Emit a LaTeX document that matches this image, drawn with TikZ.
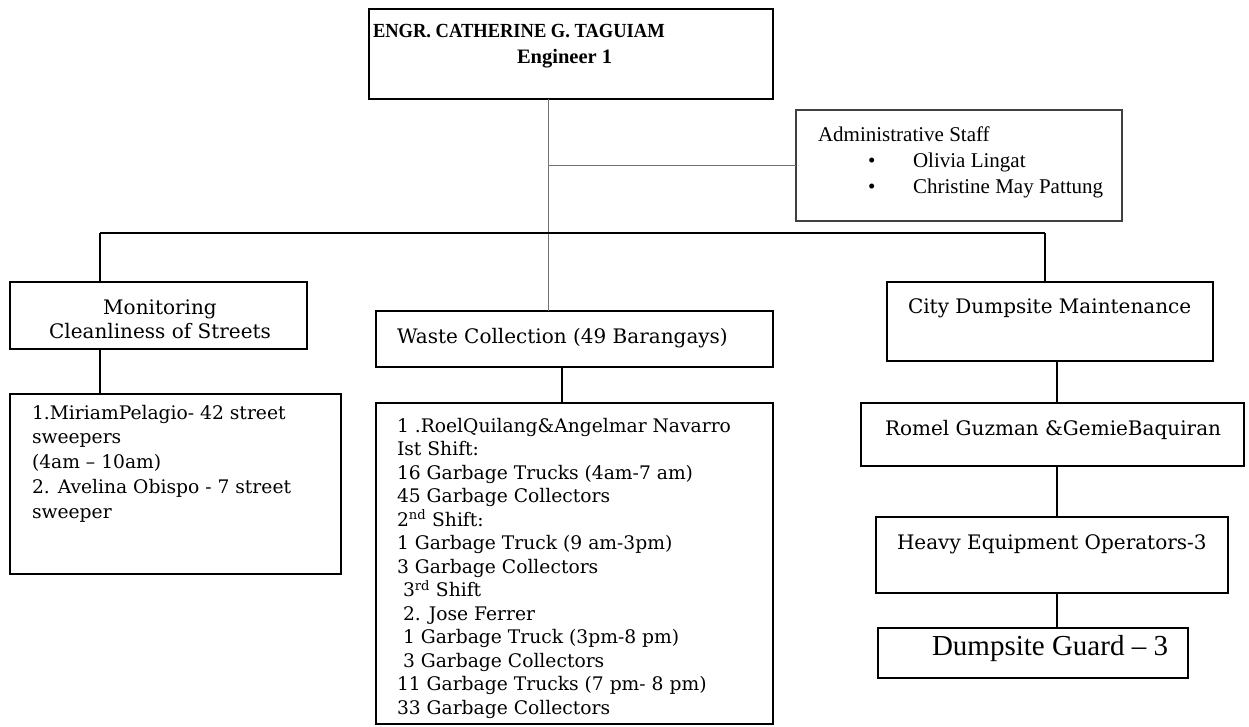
\documentclass[tikz,border=0pt]{standalone}
\usepackage{fontspec}
\setmainfont{DejaVu Serif}
\newfontfamily\timesf[Ligatures=TeX]{Liberation Serif}
\tikzset{
  x=1pt, y=-1pt,
  box/.style={draw=black, line width=1.6pt, anchor=north west, inner sep=0pt, outer sep=0pt},
  adminbox/.style={box, draw=black!75, line width=2.2pt},
  txt/.style={anchor=base west, inner sep=0pt, outer sep=0pt},
  ctxt/.style={anchor=base, inner sep=0pt, outer sep=0pt},
  grayln/.style={draw=black!55, line width=1pt},
  barln/.style={draw=black, line width=2.4pt},
  dropln/.style={draw=black, line width=1.7pt},
}
\newcommand{\bodyf}{\fontsize{20pt}{24pt}\selectfont}
\newcommand{\detf}{\fontsize{18.7pt}{23.5pt}\selectfont}
\begin{document}
\begin{tikzpicture}
\useasboundingbox (0,0) rectangle (1249,726);
% boxes
\node[box, line width=1.8pt, minimum width=404pt, minimum height=90pt] (T) at (369,9) {};
\node[adminbox, minimum width=326pt, minimum height=111pt] (A) at (796,110) {};
\node[box, minimum width=297pt, minimum height=67pt] (M) at (10,282) {};
\node[box, minimum width=397pt, minimum height=56pt] (W) at (376,311) {};
\node[box, minimum width=326pt, minimum height=79pt] (C) at (887,282) {};
\node[box, minimum width=331pt, minimum height=180pt] (MD) at (10,394) {};
\node[box, minimum width=397pt, minimum height=321pt] (WD) at (376,403) {};
\node[box, minimum width=383pt, minimum height=63pt] (R) at (861,403) {};
\node[box, minimum width=352pt, minimum height=76pt] (H) at (876,517) {};
\node[box, minimum width=310pt, minimum height=50pt] (G) at (878,628) {};
% connectors
\coordinate (cx) at (548,0);
\draw[grayln] (T.south -| cx) -- (W.north -| cx);
\draw[grayln] (cx |- A.west) -- (A.west);
\coordinate (bl) at (100,233);
\coordinate (br) at (1045,233);
\draw[barln] (bl) -- (br);
\draw[dropln] (bl) -- (M.north -| bl);
\draw[dropln] (br) -- (C.north -| br);
\draw[dropln] (M.south -| bl) -- (MD.north -| bl);
\coordinate (wx) at (562,0);
\draw[dropln] (W.south -| wx) -- (WD.north -| wx);
\coordinate (rx) at (1057,0);
\draw[dropln] (C.south -| rx) -- (R.north -| rx);
\draw[dropln] (R.south -| rx) -- (H.north -| rx);
\draw[dropln] (H.south -| rx) -- (G.north -| rx);
% top box text
\node[txt] (t1) at (373,37) {\timesf\bfseries\fontsize{20pt}{24pt}\selectfont\scalebox{0.925}[1]{ENGR. CATHERINE G. TAGUIAM}};
\node[txt] (t2) at (517,63) {\timesf\bfseries\fontsize{20.5pt}{24pt}\selectfont Engineer 1};
% admin text
\node[txt] (a1) at (818,141) {\timesf\fontsize{21pt}{25pt}\selectfont Administrative Staff};
\node[txt] (a2b) at (868,167) {\timesf\fontsize{21pt}{25pt}\selectfont\textbullet};
\node[txt] (a2) at (913,167) {\timesf\fontsize{21pt}{25pt}\selectfont Olivia Lingat};
\node[txt] (a3b) at (868,193) {\timesf\fontsize{21pt}{25pt}\selectfont\textbullet};
\node[txt] (a3) at (913,193) {\timesf\fontsize{21pt}{25pt}\selectfont Christine May Pattung};
% monitoring
\node[ctxt] (m1) at (160,314) {\bodyf Monitoring};
\node[ctxt] (m2) at (160,338) {\bodyf Cleanliness of Streets};
\foreach \s [count=\i from 0] in {1.MiriamPelagio- 42 street, sweepers, (4am – 10am), 2. Avelina Obispo - 7 street, sweeper}
  \node[txt] (md\i) at (32,419+24.8*\i) {\detf \s};
% waste
\node[txt] (w1) at (397,343) {\bodyf Waste Collection (49 Barangays)};
\foreach \s [count=\i from 0] in {1 .RoelQuilang\&Angelmar Navarro, Ist Shift:, 16 Garbage Trucks (4am-7 am), 45 Garbage Collectors, {2\textsuperscript{nd} Shift:}, 1 Garbage Truck (9 am-3pm), 3 Garbage Collectors, {\hspace*{6pt}3\textsuperscript{rd} Shift}, {\hspace*{6pt}2. Jose Ferrer}, {\hspace*{6pt}1 Garbage Truck (3pm-8 pm)}, {\hspace*{6pt}3 Garbage Collectors}, 11 Garbage Trucks (7 pm- 8 pm), 33 Garbage Collectors}
  \node[txt] (wd\i) at (397,432+23.5*\i) {\detf \s};
% right column
\node[txt] (c1) at (908,313) {\bodyf City Dumpsite Maintenance};
\node[txt] (r1) at (885,435) {\bodyf Romel Guzman \&GemieBaquiran};
\node[txt] (h1) at (897,549) {\bodyf Heavy Equipment Operators-3};
\node[txt] (g1) at (932,655) {\timesf\fontsize{29pt}{34pt}\selectfont Dumpsite Guard – 3};
\end{tikzpicture}
\end{document}
